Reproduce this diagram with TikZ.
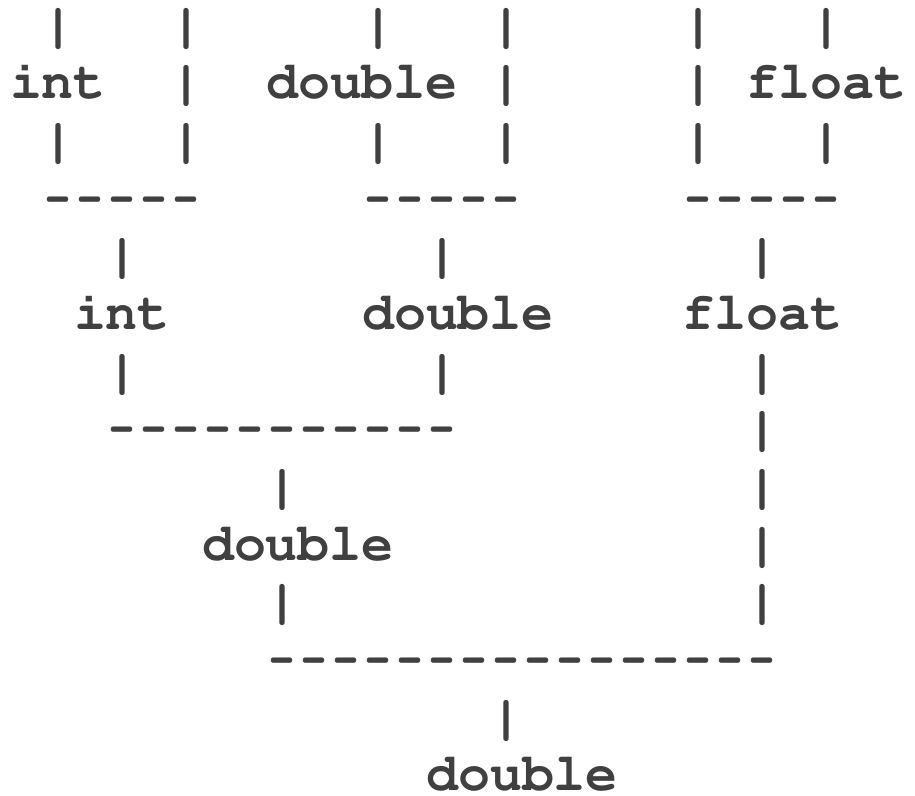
\documentclass[tikz,border=0pt]{standalone}
\usepackage[T1]{fontenc}
\usepackage{courier}
\usepackage{graphicx}
\definecolor{ink}{HTML}{404040}
\tikzset{
  tk/.style={anchor=base west, inner sep=0pt, outer sep=0pt, text=ink,
    font=\ttfamily\bfseries\fontsize{53.33}{60}\selectfont}
}
% one hyphen in a monospace cell, narrowed like the reference
\newcommand\hy{\makebox[0.6em]{\scalebox{0.78}[1]{-}}}
% #1 name, #2 column, #3 row, #4 text
\newcommand\asciitok[4]{\node[tk] (#1) at ({10+#2*32},{-(41+(#3-1)*57.67)}) {#4};}
\begin{document}
\begin{tikzpicture}[x=1pt,y=1pt]
\useasboundingbox (0,0) rectangle (915,-795);
% row 1
\asciitok{a1}{1}{1}{|}
\asciitok{a2}{5}{1}{|}
\asciitok{a3}{11}{1}{|}
\asciitok{a4}{15}{1}{|}
\asciitok{a5}{21}{1}{|}
\asciitok{a6}{25}{1}{|}
% row 2
\asciitok{int1}{0}{2}{int}
\asciitok{b2}{5}{2}{|}
\asciitok{double1}{8}{2}{double}
\asciitok{b4}{15}{2}{|}
\asciitok{b5}{21}{2}{|}
\asciitok{float1}{23}{2}{float}
% row 3
\asciitok{c1}{1}{3}{|}
\asciitok{c2}{5}{3}{|}
\asciitok{c3}{11}{3}{|}
\asciitok{c4}{15}{3}{|}
\asciitok{c5}{21}{3}{|}
\asciitok{c6}{25}{3}{|}
% row 4
\asciitok{d1}{1}{4}{\hy\hy\hy\hy\hy}
\asciitok{d2}{11}{4}{\hy\hy\hy\hy\hy}
\asciitok{d3}{21}{4}{\hy\hy\hy\hy\hy}
% row 5
\asciitok{e1}{3}{5}{|}
\asciitok{e2}{13}{5}{|}
\asciitok{e3}{23}{5}{|}
% row 6
\asciitok{int2}{2}{6}{int}
\asciitok{double2}{11}{6}{double}
\asciitok{float2}{21}{6}{float}
% row 7
\asciitok{g1}{3}{7}{|}
\asciitok{g2}{13}{7}{|}
\asciitok{g3}{23}{7}{|}
% row 8
\asciitok{h1}{3}{8}{\hy\hy\hy\hy\hy\hy\hy\hy\hy\hy\hy}
\asciitok{h2}{23}{8}{|}
% row 9
\asciitok{i1}{8}{9}{|}
\asciitok{i2}{23}{9}{|}
% row 10
\asciitok{double3}{6}{10}{double}
\asciitok{j2}{23}{10}{|}
% row 11
\asciitok{k1}{8}{11}{|}
\asciitok{k2}{23}{11}{|}
% row 12
\asciitok{l1}{8}{12}{\hy\hy\hy\hy\hy\hy\hy\hy\hy\hy\hy\hy\hy\hy\hy\hy}
% row 13
\asciitok{m1}{15}{13}{|}
% row 14
\asciitok{double4}{13}{14}{double}
\end{tikzpicture}
\end{document}
